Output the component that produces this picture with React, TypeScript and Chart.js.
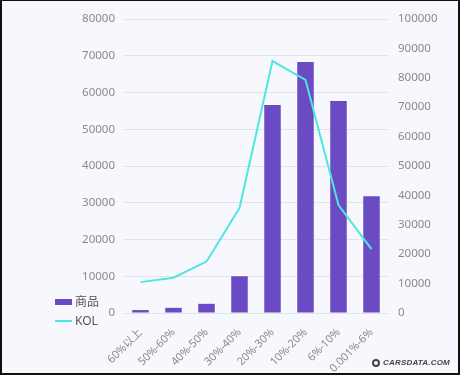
import React, { useEffect, useRef } from "react";
import { Chart, registerables } from "chart.js";

Chart.register(...registerables);

const categories = ["60%以上", "50%-60%", "40%-50%", "30%-40%", "20%-30%", "10%-20%", "6%-10%", "0.001%-6%"];
const goodsValues = [800, 1400, 2500, 10000, 56600, 68300, 57700, 31800];
const kolValues = [10500, 12000, 17500, 35700, 85700, 79300, 36700, 21700];
const leftMax = 80000;
const rightMax = 100000;
const tickStep = 10000;

const BAR_COLOR = "#6a4bc4";
const LINE_COLOR = "#4fe6df";
const TICK_COLOR = "#8a8a8a";
const FONT = "'Noto Sans', 'Noto Sans CJK SC', sans-serif";

export default function App() {
  const ref = useRef<HTMLCanvasElement | null>(null);

  useEffect(() => {
    document.body.style.margin = "0";
    const ctx = ref.current!;
    const plain = (v: any) => String(v);
    const chart = new Chart(ctx, {
      data: {
        labels: categories,
        datasets: [
          {
            type: "line",
            label: "KOL",
            data: kolValues,
            yAxisID: "y1",
            borderColor: LINE_COLOR,
            backgroundColor: LINE_COLOR,
            borderWidth: 2,
            pointRadius: 0,
            tension: 0,
            order: 0,
          },
          {
            type: "bar",
            label: "商品",
            data: goodsValues,
            yAxisID: "y",
            backgroundColor: BAR_COLOR,
            barPercentage: 0.5,
            categoryPercentage: 1,
            order: 1,
          },
        ],
      } as any,
      options: {
        animation: false,
        responsive: false,
        maintainAspectRatio: false,
        layout: { padding: { left: 62, right: 0, top: 18, bottom: 0 } },
        plugins: { legend: { display: false }, tooltip: { enabled: false } },
        scales: {
          x: {
            grid: { display: false },
            border: { display: false },
            ticks: {
              color: TICK_COLOR,
              font: { family: FONT, size: 11 },
              maxRotation: 45,
              minRotation: 45,
              autoSkip: false,
              padding: 5,
            },
            afterFit: (s: any) => {
              s.height = 60;
            },
          },
          y: {
            position: "left",
            min: 0,
            max: leftMax,
            grid: { color: "#e3e4ea", drawTicks: false },
            border: { display: false },
            ticks: {
              stepSize: tickStep,
              color: TICK_COLOR,
              font: { family: FONT, size: 11.5 },
              padding: 9,
              callback: plain,
            },
            afterFit: (s: any) => {
              s.width = 60;
            },
          },
          y1: {
            position: "right",
            min: 0,
            max: rightMax,
            grid: { display: false, drawTicks: false },
            border: { display: false },
            ticks: {
              stepSize: tickStep,
              color: TICK_COLOR,
              font: { family: FONT, size: 11.5 },
              padding: 10,
              callback: plain,
            },
            afterFit: (s: any) => {
              s.width = 70;
            },
          },
        },
      },
    });
    return () => chart.destroy();
  }, []);

  const legendText: React.CSSProperties = {
    position: "absolute",
    left: 73,
    fontFamily: FONT,
    fontSize: 12,
    color: "#555",
    lineHeight: "14px",
  };

  return (
    <div
      style={{
        position: "relative",
        width: 460,
        height: 375,
        boxSizing: "border-box",
        borderTop: "1px solid #111",
        borderLeft: "2px solid #111",
        borderRight: "2px solid #111",
        borderBottom: "2px solid #111",
        background: "#f7f8fd",
        overflow: "hidden",
      }}
    >
      <canvas ref={ref} width={456} height={372} style={{ display: "block" }} />
      <div style={{ position: "absolute", left: 53, top: 298, width: 17, height: 6, background: BAR_COLOR }} />
      <div style={{ ...legendText, top: 294 }}>商品</div>
      <div style={{ position: "absolute", left: 53, top: 319, width: 17, height: 2, background: LINE_COLOR }} />
      <div style={{ ...legendText, top: 313 }}>KOL</div>
      <div
        style={{
          position: "absolute",
          left: 370,
          top: 357,
          display: "flex",
          alignItems: "center",
          gap: 3,
          color: "#444",
        }}
      >
        <div
          style={{
            width: 8,
            height: 8,
            borderRadius: "50%",
            border: "2px solid #444",
            boxSizing: "border-box",
          }}
        />
        <span
          style={{
            fontFamily: "'Liberation Sans', Arial, sans-serif",
            fontSize: 8,
            fontWeight: 700,
            fontStyle: "italic",
            letterSpacing: 0.2,
            lineHeight: "10px",
          }}
        >
          CARSDATA.COM
        </span>
      </div>
    </div>
  );
}
